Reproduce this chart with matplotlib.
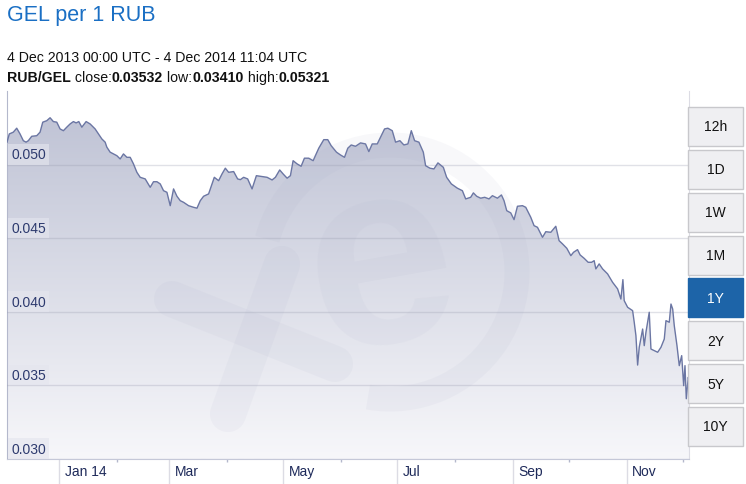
import numpy as np
import pandas as pd
import matplotlib
matplotlib.use('Agg')
import matplotlib.pyplot as plt
import matplotlib.dates as mdates
from matplotlib.colors import LinearSegmentedColormap
from matplotlib.patches import Polygon, Rectangle, Arc

plt.rcParams['font.family'] = ['Liberation Sans', 'DejaVu Sans']

# Data: days since 4 Dec 2013 00:00 UTC, RUB->GEL rate
start = pd.Timestamp('2013-12-04 00:00')
end = pd.Timestamp('2014-12-04 11:04')

day_offset = [
    0, 1.23, 3.38, 5.21, 6.98, 8.75, 10.20, 11.43, 13.26, 15.94,
    17.71, 19.16, 21.31, 23.08, 24.85, 26.67, 28.44, 30.21, 32.04, 33.81,
    35.58, 37.03, 38.48, 40.09, 42.40, 44.54, 47.22, 49.00, 50.82, 52.59,
    53.50, 55.27, 57.05, 58.87, 60.64, 62.41, 64.24, 66.01, 67.78, 69.60,
    71.37, 74.06, 76.74, 78.51, 80.34, 82.11, 83.88, 85.70, 87.47, 89.25,
    91.07, 92.84, 94.61, 97.29, 99.98, 101.80, 103.57, 105.34, 108.03, 109.85,
    111.09, 113.40, 115.22, 116.99, 118.76, 121.45, 123.59,
    125.04, 126.81, 128.96, 131.32, 133.63, 135.77, 139.37, 142.05, 143.82, 146.13,
    147.95, 150.10, 151.87, 153.32, 155.47, 157.61, 159.38, 161.69, 164.05, 167.06,
    169.74, 171.89, 173.71, 176.56, 178.70, 180.85, 182.62, 184.45, 186.75, 189.44,
    192.12, 193.89, 195.72, 198.40, 200.55, 202.32, 204.09, 206.45, 208.22, 210.53,
    212.67, 214.82, 216.65, 218.42, 220.73, 223.09, 224.32, 226.63, 228.78, 230.92,
    233.82, 235.59, 238.11, 241.33, 244.02, 245.79, 248.47,
    249.92, 251.69, 253.83, 255.98, 258.29, 260.11, 262.79, 264.94, 266.34, 267.79,
    269.93, 271.71, 273.53, 276.21, 277.98, 280.67, 282.44, 284.26, 286.95, 288.72,
    291.40, 294.08, 295.85, 297.68, 299.99, 302.13, 303.58, 305.73, 307.12, 309.27,
    311.42, 313.24, 314.64, 315.55, 317.32, 319.15, 321.83, 324.51, 327.20, 328.97,
    330.04, 330.74, 332.57, 335.25, 336.11, 337.02, 337.93, 338.79, 340.62, 341.48,
    342.39, 344.16, 345.07, 346.84, 348.67, 350.44, 352.21, 353.12, 354.89, 355.80,
    356.72, 357.57, 359.02, 360.25, 361.54, 362.61, 363.31, 364.01, 365.08, 365.46,
]

rate = [
    0.05155, 0.05211, 0.05223, 0.05250, 0.05211, 0.05165, 0.05155, 0.05165, 0.05195, 0.05199,
    0.05223, 0.05291, 0.05301, 0.05321, 0.05295, 0.05291, 0.05245, 0.05233, 0.05257, 0.05279,
    0.05295, 0.05286, 0.05295, 0.05257, 0.05295, 0.05279, 0.05245, 0.05211, 0.05177, 0.05155,
    0.05121, 0.05087, 0.05075, 0.05063, 0.05041, 0.05075, 0.05052, 0.05052, 0.05007, 0.04950,
    0.04916, 0.04905, 0.04848, 0.04886, 0.04886, 0.04871, 0.04825, 0.04814, 0.04723, 0.04837,
    0.04787, 0.04757, 0.04746, 0.04723, 0.04712, 0.04706, 0.04757, 0.04787, 0.04803, 0.04871,
    0.04916, 0.04893, 0.04939, 0.04978, 0.04950, 0.04955, 0.04905,
    0.04900, 0.04916, 0.04905, 0.04837, 0.04927, 0.04923, 0.04916, 0.04898, 0.04916, 0.04966,
    0.04939, 0.04910, 0.04927, 0.05029, 0.05007, 0.04991, 0.05046, 0.05046, 0.05029, 0.05114,
    0.05172, 0.05172, 0.05131, 0.05087, 0.05068, 0.05052, 0.05114, 0.05136, 0.05127, 0.05150,
    0.05143, 0.05091, 0.05143, 0.05143, 0.05199, 0.05245, 0.05250, 0.05233, 0.05155, 0.05165,
    0.05136, 0.05143, 0.05233, 0.05165, 0.05155, 0.05087, 0.04995, 0.04978, 0.04973, 0.05014,
    0.04984, 0.04916, 0.04871, 0.04842, 0.04825, 0.04769, 0.04780,
    0.04810, 0.04787, 0.04774, 0.04780, 0.04769, 0.04791, 0.04774, 0.04796, 0.04757, 0.04689,
    0.04674, 0.04628, 0.04719, 0.04723, 0.04712, 0.04644, 0.04587, 0.04576, 0.04508, 0.04546,
    0.04542, 0.04583, 0.04485, 0.04463, 0.04433, 0.04383, 0.04406, 0.04424, 0.04388, 0.04365,
    0.04338, 0.04338, 0.04349, 0.04293, 0.04327, 0.04293, 0.04259, 0.04202, 0.04157, 0.04088,
    0.04220, 0.04077, 0.04032, 0.04009, 0.03930, 0.03839, 0.03639, 0.03760, 0.03884, 0.03771,
    0.03862, 0.03998, 0.03748, 0.03737, 0.03726, 0.03760, 0.03816, 0.03941, 0.03930, 0.04054,
    0.04020, 0.03907, 0.03771, 0.03635, 0.03703, 0.03499, 0.03635, 0.03410, 0.03556, 0.03532,
]

y_ticks = [0.030, 0.035, 0.040, 0.045, 0.050]
y_labels = ['0.030', '0.035', '0.040', '0.045', '0.050']
month_labels = ['Jan 14', 'Mar', 'May', 'Jul', 'Sep', 'Nov']
month_starts = ['2014-01-01', '2014-03-01', '2014-05-01', '2014-07-01', '2014-09-01', '2014-11-01']
minor_months = ['2014-02-01', '2014-04-01', '2014-06-01', '2014-08-01', '2014-10-01', '2014-12-01']
buttons = ['12h', '1D', '1W', '1M', '1Y', '2Y', '5Y', '10Y']
active = '1Y'

dates = start + pd.to_timedelta(day_offset, unit='D')
xnum = mdates.date2num(dates)

W, H = 746, 485
fig = plt.figure(figsize=(W / 100, H / 100), dpi=100)
ax = fig.add_axes([7 / W, 25 / H, 682 / W, 368 / H])
ylo, yhi = 0.030, 0.05503
x0, x1 = mdates.date2num(start), mdates.date2num(end)

ax.plot(xnum, rate, color='#6b76a3', lw=1.0, zorder=5)
ax.set_xlim(x0, x1)
ax.set_ylim(ylo, yhi)

# gradient fill under the line
verts = [(xnum[0], ylo)] + list(zip(xnum, rate)) + [(xnum[-1], ylo)]
clip = Polygon(verts, closed=True, fc='none', ec='none')
ax.add_patch(clip)
cmap = LinearSegmentedColormap.from_list('fill', ['#f7f7fa', '#bcc0d3'])
grad = np.linspace(0, 1, 256).reshape(-1, 1)
im = ax.imshow(grad, extent=[x0, x1, ylo, yhi], aspect='auto', cmap=cmap,
               origin='lower', zorder=1, interpolation='bilinear')
im.set_clip_path(clip)

# grid
for v in y_ticks:
    ax.axhline(v, color='#9a9cb0', alpha=0.3, lw=1, zorder=3)
for k in range(1, 10):
    ax.axvline(k * 71.5 / 682, color='#9a9cb0', alpha=0.3, lw=1, zorder=3)

# axes styling
ax.set_yticks(y_ticks)
ax.tick_params(axis='y', length=0, labelleft=False)
ax.set_xticks(mdates.date2num(pd.to_datetime(month_starts)))
ax.set_xticks(mdates.date2num(pd.to_datetime(minor_months)), minor=True)
ax.tick_params(axis='x', which='major', length=18, width=1, color='#dcdce4', labelbottom=False)
ax.tick_params(axis='x', which='minor', length=2, width=1, color='#b4b8cc')
ax.spines['top'].set_visible(False)
ax.spines['left'].set_color('#b4b8cc')
ax.spines['bottom'].set_color('#c5c8d8')
ax.spines['right'].set_color('#dcdce4')

# y labels inside plot
for v, lbl in zip(y_ticks, y_labels):
    ax.annotate(lbl, xy=(0, v), xycoords=('axes fraction', 'data'),
                xytext=(3, 2.5), textcoords='offset points', ha='left', va='bottom',
                fontsize=10, color='#2d3a6e', zorder=6,
                bbox=dict(boxstyle='square,pad=0.25', fc='#e4e5ee', ec='none', alpha=0.65))

# x labels to the right of month separators
for d, lbl in zip(pd.to_datetime(month_starts), month_labels):
    ax.annotate(lbl, xy=(mdates.date2num(d), 0), xycoords=('data', 'axes fraction'),
                xytext=(4, -8.5), textcoords='offset points', ha='left', va='center',
                fontsize=10, color='#1e2a5a', annotation_clip=False)

# faint xe watermark (drawn in pixel coordinates of the plot area)
wm = fig.add_axes(ax.get_position(), zorder=ax.get_zorder() + 1)
wm.set_xlim(7, 689)
wm.set_ylim(460, 92)
wm.axis('off')
wm.patch.set_alpha(0)
wm_col, wm_alpha = '#9ea3c0', 0.07
wm.add_patch(Arc((390, 273), 254, 254, theta1=-165, theta2=100, lw=18,
                 color=wm_col, alpha=wm_alpha))
wm.text(382, 272, 'e', fontsize=190, fontweight='bold', color=wm_col, alpha=wm_alpha,
        ha='center', va='center', rotation=10)
wm.plot([172, 335], [300, 365], color=wm_col, alpha=wm_alpha, lw=26, solid_capstyle='round')
wm.plot([282, 228], [265, 415], color=wm_col, alpha=wm_alpha, lw=26, solid_capstyle='round')

# header
fig.text(7 / W, 1 - 21 / H, 'GEL per 1 RUB', fontsize=15.5, color='#1a6fc4', va='baseline')
fig.text(7 / W, 1 - 61.7 / H, '4 Dec 2013 00:00 UTC - 4 Dec 2014 11:04 UTC',
         fontsize=10.2, color='#111111', va='baseline')
pieces = [('RUB/GEL', 'bold'), (' close:', 'normal'), ('0.03532', 'bold'),
          (' low:', 'normal'), ('0.03410', 'bold'), (' high:', 'normal'), ('0.05321', 'bold')]
prev = fig.text(7 / W, 1 - 81.7 / H, pieces[0][0], fontsize=10.2, fontweight=pieces[0][1],
                color='#111111', va='baseline')
for txt, wt in pieces[1:]:
    prev = fig.add_artist(matplotlib.text.Annotation(
        txt, xy=(1, 0), xycoords=prev, va='bottom', ha='left',
        fontsize=10.2, fontweight=wt, color='#111111'))

# period buttons
for i, b in enumerate(buttons):
    top = 108 + i * 42.85
    on = b == active
    fig.add_artist(Rectangle((688 / W, 1 - (top + 39) / H), 55 / W, 39 / H,
                             transform=fig.transFigure, fc='#1d64a8' if on else '#efeff2',
                             ec='#1d64a8' if on else '#c8c8cc', lw=1))
    fig.text(715.5 / W, 1 - (top + 19.5) / H, b, ha='center', va='center', fontsize=10,
             color='white' if on else '#111111')

fig.savefig('out.png', dpi=100)
